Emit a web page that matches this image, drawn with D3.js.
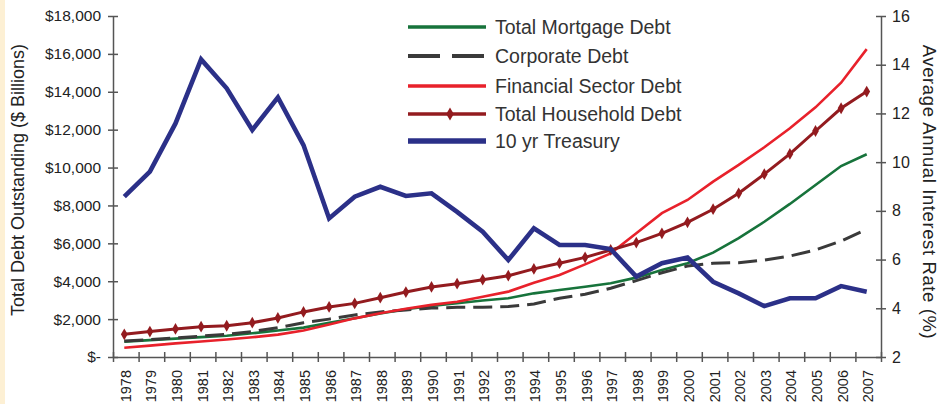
<!DOCTYPE html>
<html lang="en">
<head>
<meta charset="utf-8">
<title>Debt Outstanding vs 10 yr Treasury</title>
<script src="https://d3js.org/d3.v7.min.js"></script>
<style>
  body { margin: 0; background: #fff; }
  svg { display: block; font-family: "Liberation Sans", Arial, sans-serif; }
</style>
</head>
<body>
<div id="chart"></div>
<script>
// years on the x axis
const years = d3.range(1978, 2008);

// $ billions (left axis)
const mortgageDebt = [810, 890, 970, 1050, 1120, 1250, 1400, 1550, 1800, 2050, 2300, 2520, 2690, 2840, 2980,
                      3100, 3360, 3540, 3710, 3890, 4190, 4590, 4950, 5510, 6270, 7140, 8080, 9080, 10080, 10700];
const corporateDebt = [840, 920, 1000, 1100, 1200, 1340, 1550, 1810, 2000, 2220, 2380, 2480, 2580, 2620, 2630,
                       2660, 2800, 3100, 3310, 3630, 4030, 4450, 4800, 4950, 4980, 5120, 5330, 5650, 6120, 6740];
const financialDebt = [490, 600, 720, 820, 920, 1040, 1180, 1400, 1720, 2040, 2310, 2550, 2750, 2920, 3180,
                       3450, 3920, 4330, 4890, 5470, 6530, 7590, 8290, 9260, 10140, 11070, 12070, 13180, 14480, 16250];
const householdDebt = [1200, 1340, 1480, 1600, 1650, 1810, 2060, 2380, 2640, 2830, 3130, 3430, 3700, 3870, 4080,
                       4290, 4650, 4950, 5260, 5650, 6040, 6530, 7110, 7800, 8640, 9650, 10720, 11930, 13130, 14010];
// percent (right axis)
const treasury10yr = [8.58, 9.61, 11.59, 14.22, 13.03, 11.32, 12.66, 10.70, 7.69, 8.58, 8.99, 8.61, 8.72, 7.96, 7.14,
                      5.98, 7.28, 6.60, 6.60, 6.43, 5.30, 5.85, 6.08, 5.09, 4.61, 4.09, 4.41, 4.41, 4.91, 4.68];

const leftTicks = d3.range(0, 18001, 2000);
const rightTicks = d3.range(2, 17, 2);

const width = 939, height = 406;
const x0 = 113, x1 = 881, yTop = 16, yBot = 357;

const svg = d3.select("#chart").append("svg")
  .attr("width", width)
  .attr("height", height);

// thin cream strip at the left edge
svg.append("rect").attr("x", 0).attr("y", 0).attr("width", 5).attr("height", 404).attr("fill", "#fdf0d4");

// scales
const x = d3.scaleBand().domain(years).range([x0, x1]).padding(0);
const xEdge = d3.scaleLinear().domain([0, years.length]).range([x0, x1]);
const yL = d3.scaleLinear().domain([0, 18000]).range([yBot, yTop]);
const yR = d3.scaleLinear().domain([2, 16]).range([yBot, yTop]);
const cx = d => x(d) + x.bandwidth() / 2 - 1.5;

const axisColor = "#555";
const textColor = "#222";

// x axis: ticks on band edges, labels on centres
const gxTicks = svg.append("g").attr("transform", `translate(0,${yBot})`)
  .call(d3.axisBottom(xEdge).tickValues(d3.range(0, years.length + 1)).tickFormat("").tickSizeOuter(0));
gxTicks.selectAll(".tick line").attr("y1", -5).attr("y2", 5);

const gxLabels = svg.append("g").attr("transform", `translate(0,${yBot})`)
  .call(d3.axisBottom(x).tickSize(0).tickFormat(d => d));
gxLabels.select(".domain").remove();
gxLabels.selectAll(".tick text")
  .attr("transform", "rotate(-90)")
  .attr("x", -13).attr("y", 0).attr("dy", "0.35em")
  .style("text-anchor", "end")
  .style("font-size", "14.5px");

// left axis
const gyL = svg.append("g").attr("transform", `translate(${x0},0)`)
  .call(d3.axisLeft(yL).tickValues(leftTicks).tickSizeOuter(0)
    .tickFormat(d => d === 0 ? "$-" : "$" + d3.format(",")(d)));
gyL.selectAll(".tick line").attr("x1", -5).attr("x2", 5);
gyL.selectAll(".tick text").attr("x", -12).style("font-size", "15.5px");

// right axis
const gyR = svg.append("g").attr("transform", `translate(${x1},0)`)
  .call(d3.axisRight(yR).tickValues(rightTicks).tickSizeOuter(0));
gyR.selectAll(".tick line").attr("x1", -5).attr("x2", 5);
gyR.selectAll(".tick text").attr("x", 11).style("font-size", "16px");

svg.selectAll(".domain, .tick line").attr("stroke", axisColor).attr("stroke-width", 1.5);
svg.selectAll(".tick text").attr("fill", textColor).style("font-family", "'Liberation Sans', Arial, sans-serif");

// axis titles
svg.append("text")
  .attr("transform", "translate(24,180) rotate(-90)")
  .attr("text-anchor", "middle")
  .attr("fill", textColor)
  .style("font-size", "18px")
  .text("Total Debt Outstanding ($ Billions)");

svg.append("text")
  .attr("transform", "translate(923,192) rotate(90)")
  .attr("text-anchor", "middle")
  .attr("fill", textColor)
  .style("font-size", "18.5px")
  .style("letter-spacing", "0.6px")
  .text("Average Annual Interest Rate (%)");

// series
const series = [
  {name: "Total Mortgage Debt", values: mortgageDebt, y: yL, color: "#17733b", w: 2.6, dash: null, legendDash: null},
  {name: "Corporate Debt", values: corporateDebt, y: yL, color: "#3a3a3a", w: 3, dash: "19,8", legendDash: "32,12"},
  {name: "Financial Sector Debt", values: financialDebt, y: yL, color: "#e8212b", w: 2.6, dash: null, legendDash: null},
  {name: "Total Household Debt", values: householdDebt, y: yL, color: "#931b1f", w: 3, dash: null, legendDash: null, marker: true},
  {name: "10 yr Treasury", values: treasury10yr, y: yR, color: "#2b3088", w: 4.6, dash: null, legendDash: null}
];

series.forEach(s => {
  const line = d3.line().x((d, i) => cx(years[i])).y(d => s.y(d));
  svg.append("path")
    .datum(s.values)
    .attr("d", line)
    .attr("fill", "none")
    .attr("stroke", s.color)
    .attr("stroke-width", s.w)
    .attr("stroke-linejoin", "miter")
    .attr("stroke-dasharray", s.dash);
  if (s.marker) {
    svg.append("g").selectAll("path")
      .data(s.values)
      .join("path")
      .attr("transform", (d, i) => `translate(${cx(years[i])},${s.y(d)})`)
      .attr("d", d3.symbol(d3.symbolDiamond, 40))
      .attr("fill", s.color);
  }
});

// legend
const legendRows = [27, 56, 86, 114, 141];
const legend = svg.append("g");
series.forEach((s, i) => {
  const g = legend.append("g").attr("transform", `translate(0,${legendRows[i]})`);
  g.append("line")
    .attr("x1", 408).attr("x2", 486).attr("y1", 0).attr("y2", 0)
    .attr("stroke", s.color)
    .attr("stroke-width", s.legendDash ? 4 : (s.w > 4 ? 5.5 : 3.5))
    .attr("stroke-dasharray", s.legendDash);
  if (s.marker) {
    g.append("path")
      .attr("transform", "translate(450,0)")
      .attr("d", d3.symbol(d3.symbolDiamond, 50))
      .attr("fill", s.color);
  }
  g.append("text")
    .attr("x", 495).attr("y", 7)
    .attr("fill", "#333")
    .style("font-size", "19.5px")
    .text(s.name);
});
</script>
</body>
</html>
